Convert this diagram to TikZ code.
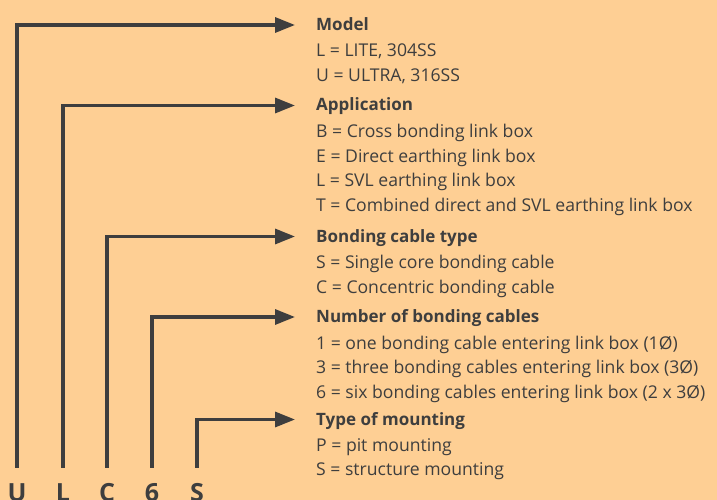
\documentclass[tikz,border=0pt]{standalone}
\usepackage{fontspec}
\setmainfont{Open Sans}
\usetikzlibrary{positioning,arrows.meta}
\definecolor{fundo}{HTML}{FECF94}
\definecolor{tinta}{HTML}{3E3E3E}

\begin{document}
\begin{tikzpicture}[x=1pt,y=1pt,
    titulo/.style={anchor=west,inner sep=0pt,text=tinta,text height=11pt,text depth=0pt,
      font=\bfseries\fontsize{17}{18}\selectfont},
    itens/.style={inner sep=0pt,text=tinta,align=left,font=\fontsize{17.6}{24.5}\selectfont},
    letra/.style={anchor=base,inner sep=0pt,text=tinta,font=\bfseries\fontsize{25}{26}\selectfont},
    seta/.style={line width=3.2pt,draw=tinta,-{Triangle[length=20pt,width=15pt]},
      shorten <=15pt,shorten >=21pt}]
  \useasboundingbox (0,0) rectangle (717,-500);
  \fill[fundo] (0,0) rectangle (717,-500);
  % letras do codigo
  \node[letra] (u) at (17,-501) {U};
  \node[letra] (l) at (63,-501) {L};
  \node[letra] (c) at (107,-501) {C};
  \node[letra] (seis) at (152,-501) {6};
  \node[letra] (s) at (197,-501) {S};
  % titulos e opcoes
  \node[titulo] (model) at (316,-25) {Model};
  \node[itens,below right=13pt and 0pt of model.south west] (model-op)
    {L = LITE, 304SS\\U = ULTRA, 316SS};
  \node[titulo] (app) at (316,-105.5) {Application};
  \node[itens,below right=13pt and 0pt of app.south west] (app-op)
    {B = Cross bonding link box\\E = Direct earthing link box\\L = SVL earthing link box\\
     T = Combined direct and SVL earthing link box};
  \node[titulo] (tipo) at (316,-236.5) {Bonding cable type};
  \node[itens,below right=13pt and 0pt of tipo.south west] (tipo-op)
    {S = Single core bonding cable\\C = Concentric bonding cable};
  \node[titulo] (num) at (316,-317) {Number of bonding cables};
  \node[itens,below right=13pt and 0pt of num.south west] (num-op)
    {1 = one bonding cable entering link box (1Ø)\\
     3 = three bonding cables entering link box (3Ø)\\
     6 = six bonding cables entering link box (2 x 3Ø)};
  \node[titulo] (mont) at (316,-419.5) {Type of mounting};
  \node[itens,below right=13pt and 0pt of mont.south west] (mont-op)
    {P = pit mounting\\S = structure mounting};
  % setas
  \draw[seta] (u.north) |- (model.west);
  \draw[seta] (l.north) |- (app.west);
  \draw[seta] (c.north) |- (tipo.west);
  \draw[seta] (seis.north) |- (num.west);
  \draw[seta] (s.north) |- (mont.west);
\end{tikzpicture}
\end{document}
